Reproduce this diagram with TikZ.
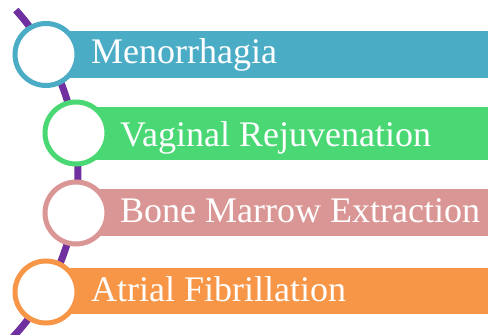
\documentclass[tikz,border=0pt]{standalone}
\usepackage{fontspec}
\setmainfont{Liberation Serif}
\definecolor{cblue}{HTML}{4BACC6}
\definecolor{cgreen}{HTML}{4AD874}
\definecolor{cpink}{HTML}{D99694}
\definecolor{corange}{HTML}{F79646}
\definecolor{cpurple}{HTML}{7030A0}
\begin{document}
\begin{tikzpicture}[x=1pt,y=1pt,
  barbox/.style={fill=#1,draw=none,inner sep=0pt,anchor=west},
  ring/.style={circle,draw=#1,fill=white,line width=5pt,minimum size=62pt,inner sep=0pt},
  label/.style={text=white,anchor=base west,inner sep=0pt,font=\fontsize{36}{40}\selectfont}]
\useasboundingbox (0,0) rectangle (488,335);
\clip (0,0) rectangle (488,335);
% backbone arc
\draw[cpurple,line width=7pt] (-164,163) ++(42:242) arc[start angle=42,end angle=-44,radius=242];
% bars
\node[barbox=cblue,minimum width=442pt,minimum height=47pt] (b1) at (46,280.5) {};
\node[barbox=cgreen,minimum width=412pt,minimum height=53pt] (b2) at (76,201.5) {};
\node[barbox=cpink,minimum width=412pt,minimum height=47pt] (b3) at (76,122.5) {};
\node[barbox=corange,minimum width=442pt,minimum height=46pt] (b4) at (46,44) {};
% rings
\node[ring=cblue] (c1) at (46,280.5) {};
\node[ring=cgreen] (c2) at (76,202) {};
\node[ring=cpink] (c3) at (76,122) {};
\node[ring=corange] (c4) at (46,43) {};
% labels
\node[label] (t1) at (91,271) {Menorrhagia};
\node[label] (t2) at (120,188) {Vaginal Rejuvenation};
\node[label] (t3) at (120,112) {Bone Marrow Extraction};
\node[label] (t4) at (91,33) {Atrial Fibrillation};
\end{tikzpicture}
\end{document}
